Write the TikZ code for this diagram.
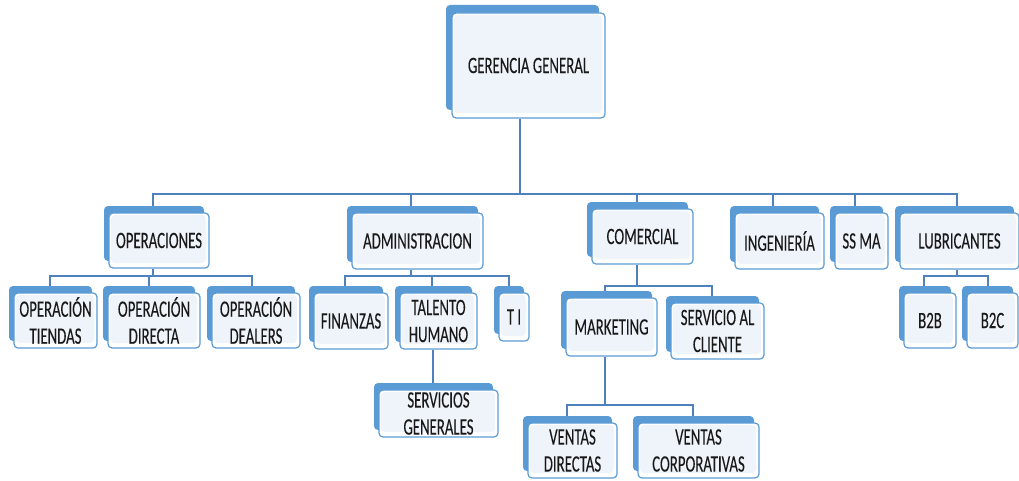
\documentclass[tikz,border=0pt]{standalone}
\usepackage{fontspec}
\setmainfont{Carlito}[FakeStretch=0.63,FakeBold=0.15]
\usetikzlibrary{shadows,backgrounds}
\definecolor{backblue}{RGB}{91,155,213}
\definecolor{edgeblue}{RGB}{91,155,213}
\definecolor{frontfill}{RGB}{239,244,251}
\definecolor{connblue}{RGB}{79,129,189}
\definecolor{txt}{RGB}{25,25,25}
\tikzset{
  boxbase/.style={draw=edgeblue, line width=1.2pt, fill=white, rounded corners=4pt,
    inner sep=0pt, align=center, text=txt, font=\fontsize{23.5}{27}\selectfont,
    path picture={\fill[frontfill] ([shift={(2pt,-2pt)}]path picture bounding box.north west)
      rectangle ([shift={(-3pt,5pt)}]path picture bounding box.south east);}},
  orgbox/.style={boxbase, general shadow={fill=backblue, draw=none, shadow xshift=-5pt, shadow yshift=7pt}},
  topbox/.style={boxbase, general shadow={fill=backblue, draw=none, shadow xshift=-6pt, shadow yshift=8pt}},
  conn/.style={draw=connblue, line width=1.6pt}
}
\begin{document}
\begin{tikzpicture}[x=1pt,y=-1pt]
\useasboundingbox (0,0) rectangle (1019,481);
% level 0
\node[topbox, minimum width=153pt, minimum height=105pt] (gg) at (528.5,65.5) {GERENCIA GENERAL};
% level 1
\node[orgbox, minimum width=100pt, minimum height=55pt] (opr) at (159,240.5) {OPERACIONES};
\node[orgbox, minimum width=131pt, minimum height=56pt] (adm) at (417.5,241) {ADMINISTRACION};
\node[orgbox, minimum width=101pt, minimum height=55pt] (com) at (642.5,236.5) {COMERCIAL};
\node[orgbox, minimum width=89pt, minimum height=56pt] (ing) at (779.5,241) {INGENIERÍA};
\node[orgbox, minimum width=53pt, minimum height=56pt] (ssma) at (861.5,241) {SS MA};
\node[orgbox, minimum width=119pt, minimum height=56pt] (lub) at (959.5,241) {LUBRICANTES};
% operaciones children
\node[orgbox, minimum width=83pt, minimum height=55pt] (otie) at (55.5,320.5) {OPERACIÓN\\TIENDAS};
\node[orgbox, minimum width=92pt, minimum height=55pt] (odir) at (154,320.5) {OPERACIÓN\\DIRECTA};
\node[orgbox, minimum width=88pt, minimum height=55pt] (odea) at (256,320.5) {OPERACIÓN\\DEALERS};
% administracion children
\node[orgbox, minimum width=74pt, minimum height=56pt] (fin) at (351,321) {FINANZAS};
\node[orgbox, minimum width=77pt, minimum height=56pt] (tal) at (438.5,321) {TALENTO\\HUMANO};
\node[orgbox, minimum width=30pt, minimum height=48pt] (ti) at (514,317) {T I};
\node[orgbox, minimum width=119pt, minimum height=47pt] (serv) at (438.5,413.5) {SERVICIOS\\GENERALES};
% comercial children
\node[orgbox, minimum width=91pt, minimum height=58pt] (mkt) at (611.5,327) {MARKETING};
\node[orgbox, minimum width=93pt, minimum height=56pt] (sac) at (717.5,331) {SERVICIO AL\\CLIENTE};
\node[orgbox, minimum width=89pt, minimum height=55pt] (vdir) at (572.5,450.5) {VENTAS\\DIRECTAS};
\node[orgbox, minimum width=121pt, minimum height=55pt] (vcor) at (698.5,450.5) {VENTAS\\CORPORATIVAS};
% lubricantes children
\node[orgbox, minimum width=52pt, minimum height=55pt] (b2b) at (930,320.5) {B2B};
\node[orgbox, minimum width=51pt, minimum height=55pt] (b2c) at (992.5,320.5) {B2C};

\begin{pgfonlayer}{background}
\coordinate (busA) at (520,194);
\coordinate (busB) at (153,276);
\coordinate (busC) at (411,276);
\coordinate (busD) at (637,286);
\coordinate (busE) at (605,405);
\coordinate (busF) at (957,276);
% top
\draw[conn] ([xshift=-8.5pt]gg.south) -- (busA);
\draw[conn] (busA) -| ([xshift=-6pt]opr.north);
\draw[conn] (busA) -| ([xshift=-6.5pt]adm.north);
\draw[conn] (busA) -| ([xshift=-5.5pt]com.north);
\draw[conn] (busA) -| ([xshift=-6.5pt]ing.north);
\draw[conn] (busA) -| ([xshift=-6.5pt]ssma.north);
\draw[conn] (busA) -| ([xshift=-2.5pt]lub.north);
% operaciones
\draw[conn] ([xshift=-6pt]opr.south) -- (busB);
\draw[conn] (busB) -| ([xshift=-5.5pt]otie.north);
\draw[conn] (busB) -| ([xshift=-5pt]odir.north);
\draw[conn] (busB) -| ([xshift=-4pt]odea.north);
% administracion
\draw[conn] ([xshift=-6.5pt]adm.south) -- (busC);
\draw[conn] (busC) -| ([xshift=-6pt]fin.north);
\draw[conn] (busC) -| ([xshift=-6.5pt]tal.north);
\draw[conn] (busC) -| ([xshift=-5pt]ti.north);
\draw[conn] ([xshift=-5.5pt]tal.south) -- ([xshift=-5.5pt]serv.north);
% comercial
\draw[conn] ([xshift=-5.5pt]com.south) -- (busD);
\draw[conn] (busD) -| ([xshift=-6.5pt]mkt.north);
\draw[conn] (busD) -| ([xshift=-5.5pt]sac.north);
% marketing
\draw[conn] ([xshift=-6.5pt]mkt.south) -- (busE);
\draw[conn] (busE) -| ([xshift=-5.5pt]vdir.north);
\draw[conn] (busE) -| ([xshift=-5.5pt]vcor.north);
% lubricantes
\draw[conn] ([xshift=-2.5pt]lub.south) -- (busF);
\draw[conn] (busF) -| ([xshift=-6pt]b2b.north);
\draw[conn] (busF) -| ([xshift=-4.5pt]b2c.north);
\end{pgfonlayer}
\end{tikzpicture}
\end{document}
